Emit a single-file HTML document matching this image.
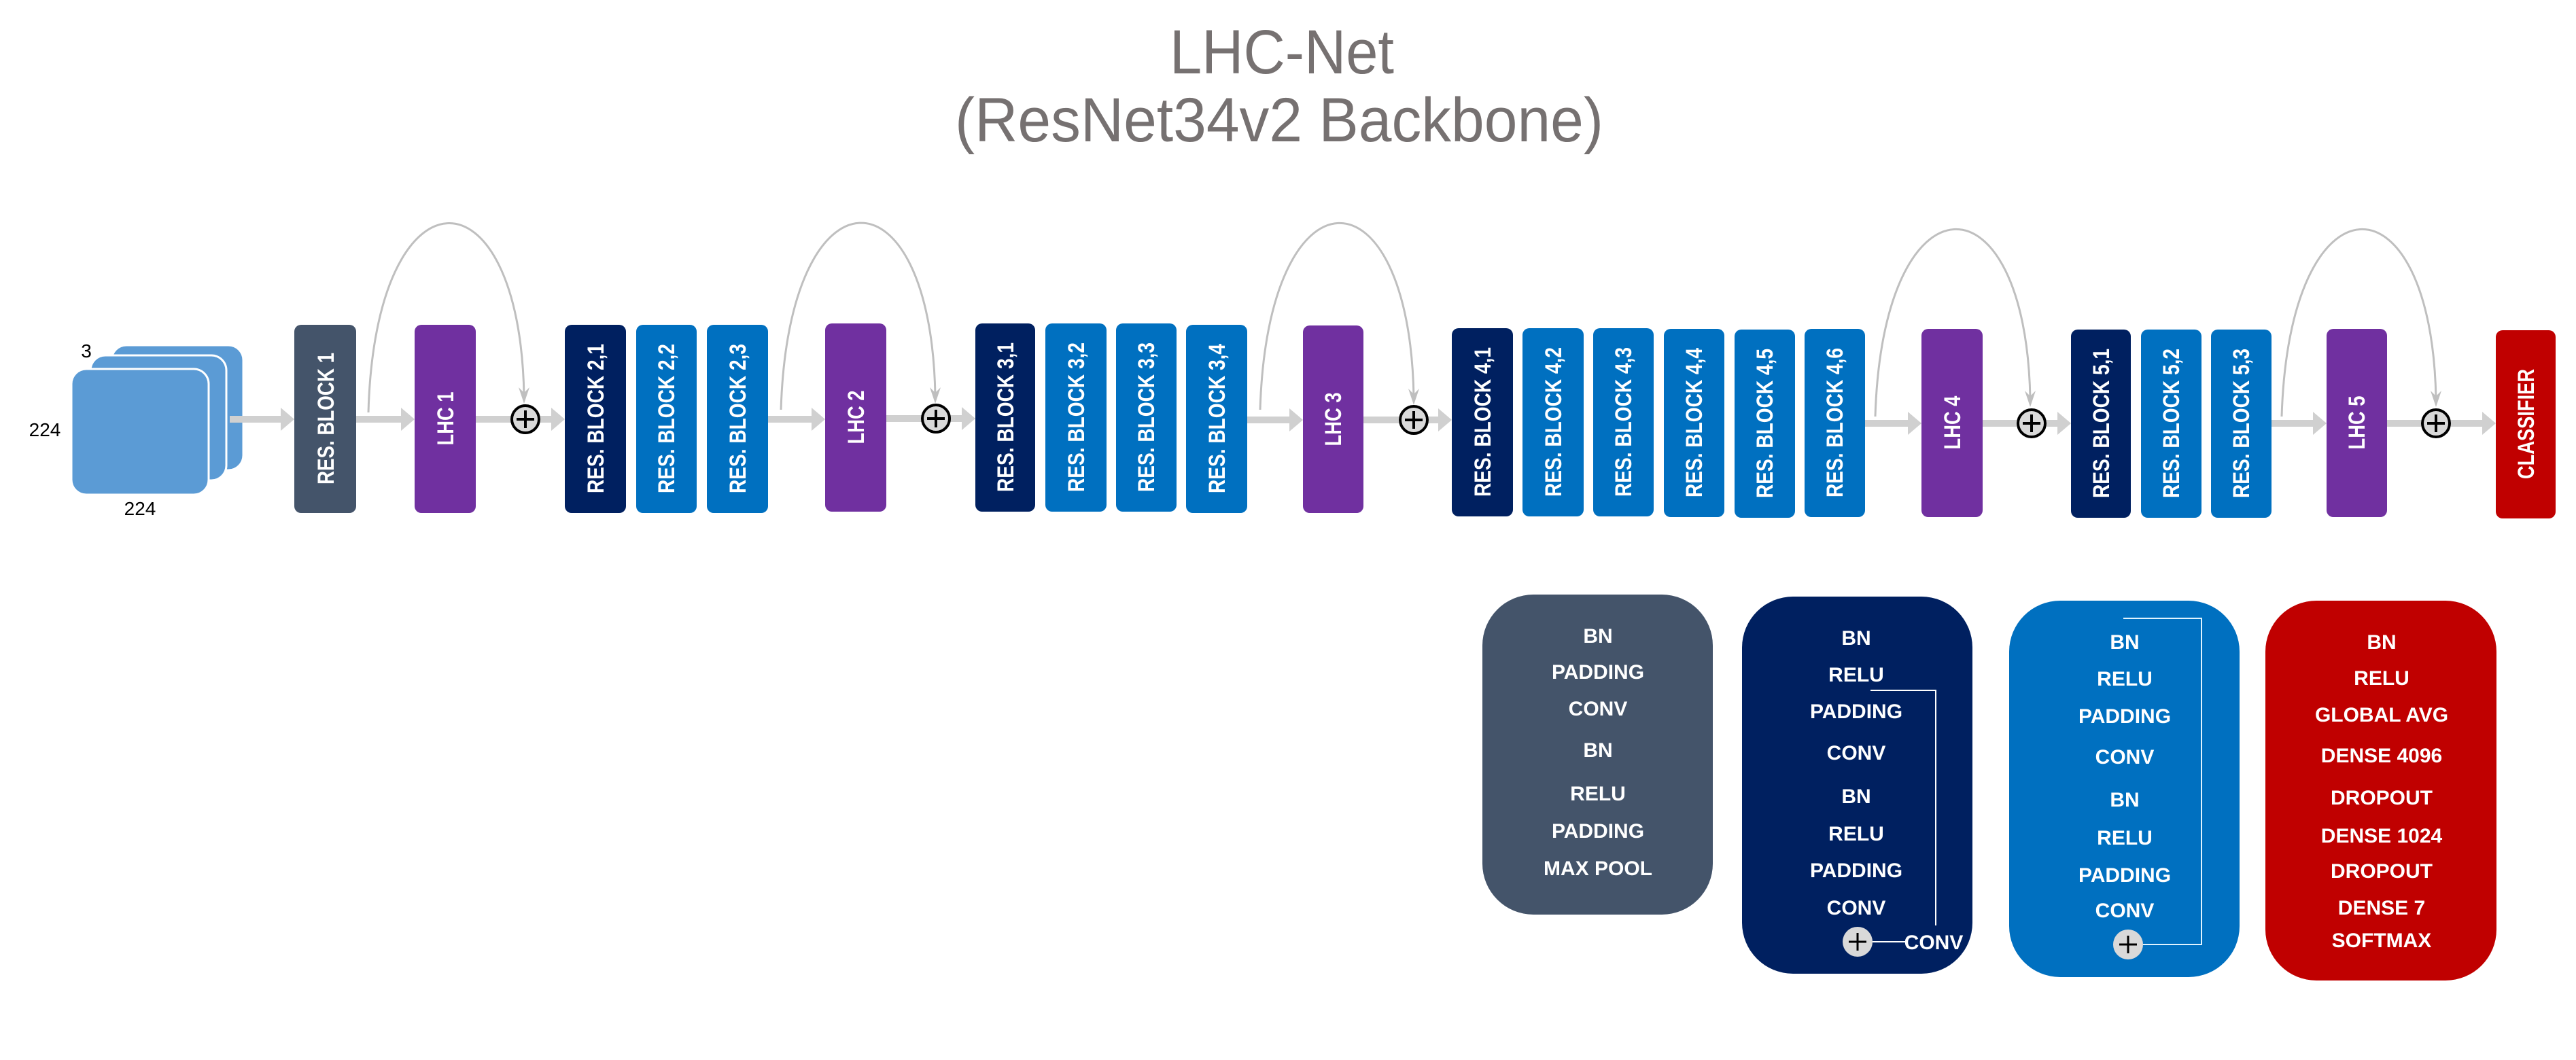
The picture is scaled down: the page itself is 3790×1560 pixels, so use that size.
<!DOCTYPE html>
<html><head><meta charset="utf-8"><style>html,body{margin:0;padding:0;background:#fff}svg{display:block}</style></head>
<body>
<svg width="3790" height="1560" viewBox="0 0 3790 1560" xmlns="http://www.w3.org/2000/svg" font-family="Liberation Sans, sans-serif">
<defs>
<marker id="ah" markerWidth="12" markerHeight="14" refX="6" refY="13" orient="auto" markerUnits="userSpaceOnUse" viewBox="0 0 12 14">
</marker>
</defs>
<!-- title -->
<text x="1886" y="108" font-size="92" fill="#767171" text-anchor="middle" textLength="330" lengthAdjust="spacingAndGlyphs">LHC-Net</text>
<text x="1882" y="208" font-size="92" fill="#767171" text-anchor="middle" textLength="954" lengthAdjust="spacingAndGlyphs">(ResNet34v2 Backbone)</text>

<!-- input cards -->
<rect x="164" y="508" width="194" height="184" rx="22" fill="#5b9bd5" stroke="#fff" stroke-width="3"/>
<rect x="133" y="523" width="200" height="184" rx="22" fill="#5b9bd5" stroke="#fff" stroke-width="3"/>
<rect x="105" y="543" width="202" height="185" rx="22" fill="#5b9bd5" stroke="#fff" stroke-width="3"/>
<text x="127" y="526" font-size="28" text-anchor="middle" fill="#000">3</text>
<text x="66" y="642" font-size="28" text-anchor="middle" fill="#000">224</text>
<text x="206" y="758" font-size="28" text-anchor="middle" fill="#000">224</text>

<!-- gray arrows -->
<g fill="#d0d0d0">
<path d="M338 612 H413 V600 L433 617 L413 634 V622 H338 Z"/>
<path d="M524 612 H590 V600 L610 617 L590 634 V622 H524 Z"/>
<path d="M700 612 H752 V622 H700 Z"/>
<path d="M795 612 H811 V600 L831 617 L811 634 V622 H795 Z"/>
<path d="M1130 612 H1194 V600 L1214 617 L1194 634 V622 H1130 Z"/>
<path d="M1304 611 H1356 V621 H1304 Z"/>
<path d="M1398 611 H1415 V599 L1435 616 L1415 633 V621 H1398 Z"/>
<path d="M1835 613 H1897 V601 L1917 618 L1897 635 V623 H1835 Z"/>
<path d="M2006 613 H2058 V623 H2006 Z"/>
<path d="M2102 613 H2116 V601 L2136 618 L2116 635 V623 H2102 Z"/>
<path d="M2744 618 H2807 V606 L2827 623 L2807 640 V628 H2744 Z"/>
<path d="M2917 618 H2967 V628 H2917 Z"/>
<path d="M3011 618 H3027 V606 L3047 623 L3027 640 V628 H3011 Z"/>
<path d="M3342 618 H3403 V606 L3423 623 L3403 640 V628 H3342 Z"/>
<path d="M3512 618 H3562 V628 H3512 Z"/>
<path d="M3606 618 H3652 V606 L3672 623 L3652 640 V628 H3606 Z"/>
</g>

<!-- arcs -->
<g fill="none" stroke="#bfbfbf" stroke-width="3">
<path d="M542 607 C552 240, 765 240, 771 582"/>
<path d="M1149 603 C1160 240, 1370 240, 1376 582"/>
<path d="M1854 603 C1865 240, 2074 240, 2080 584"/>
<path d="M2759 613 C2770 250, 2981 250, 2987 587"/>
<path d="M3357 613 C3368 250, 3578 250, 3584 587"/>
</g>
<g fill="#bfbfbf">
<path d="M763 570 L771 594 L779 570 L771 578 Z"/>
<path d="M1368 570 L1376 594 L1384 570 L1376 578 Z"/>
<path d="M2072 572 L2080 596 L2088 572 L2080 580 Z"/>
<path d="M2979 575 L2987 599 L2995 575 L2987 583 Z"/>
<path d="M3576 575 L3584 599 L3592 575 L3584 583 Z"/>
</g>

<!-- plus circles -->
<g stroke="#000">
<g transform="translate(773,617)"><circle r="20" fill="#d9d9d9" stroke-width="4"/><path d="M-13 0H13M0 -13V13" stroke-width="4"/></g>
<g transform="translate(1377,616)"><circle r="20" fill="#d9d9d9" stroke-width="4"/><path d="M-13 0H13M0 -13V13" stroke-width="4"/></g>
<g transform="translate(2080,618)"><circle r="20" fill="#d9d9d9" stroke-width="4"/><path d="M-13 0H13M0 -13V13" stroke-width="4"/></g>
<g transform="translate(2989,623)"><circle r="20" fill="#d9d9d9" stroke-width="4"/><path d="M-13 0H13M0 -13V13" stroke-width="4"/></g>
<g transform="translate(3584,623)"><circle r="20" fill="#d9d9d9" stroke-width="4"/><path d="M-13 0H13M0 -13V13" stroke-width="4"/></g>
</g>

<!-- blocks -->
<g font-weight="bold" font-size="34" fill="#fff">
<rect x="433" y="478" width="91" height="277" rx="10" fill="#44546a"/>
<text transform="translate(491,616) rotate(-90)" text-anchor="middle" textLength="194" lengthAdjust="spacingAndGlyphs">RES. BLOCK 1</text>
<rect x="610" y="478" width="90" height="277" rx="10" fill="#7030a0"/>
<text transform="translate(667,616) rotate(-90)" text-anchor="middle" textLength="79" lengthAdjust="spacingAndGlyphs">LHC 1</text>

<rect x="831" y="478" width="90" height="277" rx="10" fill="#002060"/>
<text transform="translate(888,616) rotate(-90)" text-anchor="middle" textLength="220" lengthAdjust="spacingAndGlyphs">RES. BLOCK 2,1</text>
<rect x="936" y="478" width="89" height="277" rx="10" fill="#0070c0"/>
<text transform="translate(992,616) rotate(-90)" text-anchor="middle" textLength="220" lengthAdjust="spacingAndGlyphs">RES. BLOCK 2,2</text>
<rect x="1040" y="478" width="90" height="277" rx="10" fill="#0070c0"/>
<text transform="translate(1097,616) rotate(-90)" text-anchor="middle" textLength="220" lengthAdjust="spacingAndGlyphs">RES. BLOCK 2,3</text>

<rect x="1214" y="476" width="90" height="277" rx="10" fill="#7030a0"/>
<text transform="translate(1271,614) rotate(-90)" text-anchor="middle" textLength="79" lengthAdjust="spacingAndGlyphs">LHC 2</text>

<rect x="1435" y="476" width="88" height="277" rx="10" fill="#002060"/>
<text transform="translate(1491,614) rotate(-90)" text-anchor="middle" textLength="220" lengthAdjust="spacingAndGlyphs">RES. BLOCK 3,1</text>
<rect x="1538" y="476" width="90" height="277" rx="10" fill="#0070c0"/>
<text transform="translate(1595,614) rotate(-90)" text-anchor="middle" textLength="220" lengthAdjust="spacingAndGlyphs">RES. BLOCK 3,2</text>
<rect x="1642" y="476" width="89" height="277" rx="10" fill="#0070c0"/>
<text transform="translate(1698,614) rotate(-90)" text-anchor="middle" textLength="220" lengthAdjust="spacingAndGlyphs">RES. BLOCK 3,3</text>
<rect x="1745" y="478" width="90" height="277" rx="10" fill="#0070c0"/>
<text transform="translate(1802,616) rotate(-90)" text-anchor="middle" textLength="220" lengthAdjust="spacingAndGlyphs">RES. BLOCK 3,4</text>

<rect x="1917" y="479" width="89" height="276" rx="10" fill="#7030a0"/>
<text transform="translate(1973,617) rotate(-90)" text-anchor="middle" textLength="79" lengthAdjust="spacingAndGlyphs">LHC 3</text>

<rect x="2136" y="483" width="90" height="277" rx="10" fill="#002060"/>
<text transform="translate(2193,621) rotate(-90)" text-anchor="middle" textLength="220" lengthAdjust="spacingAndGlyphs">RES. BLOCK 4,1</text>
<rect x="2240" y="483" width="90" height="277" rx="10" fill="#0070c0"/>
<text transform="translate(2297,621) rotate(-90)" text-anchor="middle" textLength="220" lengthAdjust="spacingAndGlyphs">RES. BLOCK 4,2</text>
<rect x="2344" y="483" width="89" height="277" rx="10" fill="#0070c0"/>
<text transform="translate(2400,621) rotate(-90)" text-anchor="middle" textLength="220" lengthAdjust="spacingAndGlyphs">RES. BLOCK 4,3</text>
<rect x="2448" y="484" width="89" height="277" rx="10" fill="#0070c0"/>
<text transform="translate(2504,622) rotate(-90)" text-anchor="middle" textLength="220" lengthAdjust="spacingAndGlyphs">RES. BLOCK 4,4</text>
<rect x="2552" y="485" width="89" height="277" rx="10" fill="#0070c0"/>
<text transform="translate(2608,623) rotate(-90)" text-anchor="middle" textLength="220" lengthAdjust="spacingAndGlyphs">RES. BLOCK 4,5</text>
<rect x="2655" y="484" width="89" height="277" rx="10" fill="#0070c0"/>
<text transform="translate(2711,622) rotate(-90)" text-anchor="middle" textLength="220" lengthAdjust="spacingAndGlyphs">RES. BLOCK 4,6</text>

<rect x="2827" y="484" width="90" height="277" rx="10" fill="#7030a0"/>
<text transform="translate(2884,622) rotate(-90)" text-anchor="middle" textLength="79" lengthAdjust="spacingAndGlyphs">LHC 4</text>

<rect x="3047" y="485" width="88" height="277" rx="10" fill="#002060"/>
<text transform="translate(3103,623) rotate(-90)" text-anchor="middle" textLength="220" lengthAdjust="spacingAndGlyphs">RES. BLOCK 5,1</text>
<rect x="3150" y="485" width="89" height="277" rx="10" fill="#0070c0"/>
<text transform="translate(3206,623) rotate(-90)" text-anchor="middle" textLength="220" lengthAdjust="spacingAndGlyphs">RES. BLOCK 5,2</text>
<rect x="3253" y="485" width="89" height="277" rx="10" fill="#0070c0"/>
<text transform="translate(3309,623) rotate(-90)" text-anchor="middle" textLength="220" lengthAdjust="spacingAndGlyphs">RES. BLOCK 5,3</text>

<rect x="3423" y="484" width="89" height="277" rx="10" fill="#7030a0"/>
<text transform="translate(3479,622) rotate(-90)" text-anchor="middle" textLength="79" lengthAdjust="spacingAndGlyphs">LHC 5</text>

<rect x="3672" y="486" width="88" height="277" rx="10" fill="#c00000"/>
<text transform="translate(3728,624) rotate(-90)" text-anchor="middle" textLength="162" lengthAdjust="spacingAndGlyphs">CLASSIFIER</text>
</g>

<!-- detail boxes -->
<g font-weight="bold" font-size="30" fill="#fff" text-anchor="middle">
<rect x="2181" y="875" width="339" height="471" rx="75" fill="#44546a"/>
<text x="2351" y="946">BN</text>
<text x="2351" y="999">PADDING</text>
<text x="2351" y="1053">CONV</text>
<text x="2351" y="1114">BN</text>
<text x="2351" y="1178">RELU</text>
<text x="2351" y="1233">PADDING</text>
<text x="2351" y="1288">MAX POOL</text>

<rect x="2563" y="878" width="339" height="555" rx="75" fill="#002060"/>
<text x="2731" y="949">BN</text>
<text x="2731" y="1003">RELU</text>
<text x="2731" y="1057">PADDING</text>
<text x="2731" y="1118">CONV</text>
<text x="2731" y="1182">BN</text>
<text x="2731" y="1237">RELU</text>
<text x="2731" y="1291">PADDING</text>
<text x="2731" y="1346">CONV</text>
<text x="2845" y="1397">CONV</text>
<path d="M2752 1016 H2848 V1362" fill="none" stroke="#fff" stroke-width="2"/>
<path d="M2755 1386 H2804" fill="none" stroke="#fff" stroke-width="2"/>

<rect x="2956" y="884" width="339" height="554" rx="75" fill="#0070c0"/>
<text x="3126" y="955">BN</text>
<text x="3126" y="1009">RELU</text>
<text x="3126" y="1064">PADDING</text>
<text x="3126" y="1124">CONV</text>
<text x="3126" y="1187">BN</text>
<text x="3126" y="1243">RELU</text>
<text x="3126" y="1298">PADDING</text>
<text x="3126" y="1350">CONV</text>
<path d="M3124 910 H3239 V1390 H3153" fill="none" stroke="#dff3ff" stroke-width="2"/>

<rect x="3333" y="884" width="340" height="559" rx="75" fill="#c00000"/>
<text x="3504" y="955">BN</text>
<text x="3504" y="1008">RELU</text>
<text x="3504" y="1062">GLOBAL AVG</text>
<text x="3504" y="1122">DENSE 4096</text>
<text x="3504" y="1184">DROPOUT</text>
<text x="3504" y="1240">DENSE 1024</text>
<text x="3504" y="1292">DROPOUT</text>
<text x="3504" y="1346">DENSE 7</text>
<text x="3504" y="1394">SOFTMAX</text>
</g>
<g stroke="#000">
<g transform="translate(2733,1386)"><circle r="22" fill="#d9d9d9" stroke="none"/><path d="M-13 0H13M0 -13V13" stroke-width="3"/></g>
<g transform="translate(3131,1390)"><circle r="22" fill="#d9d9d9" stroke="none"/><path d="M-13 0H13M0 -13V13" stroke-width="3"/></g>
</g>
</svg>
</body></html>
